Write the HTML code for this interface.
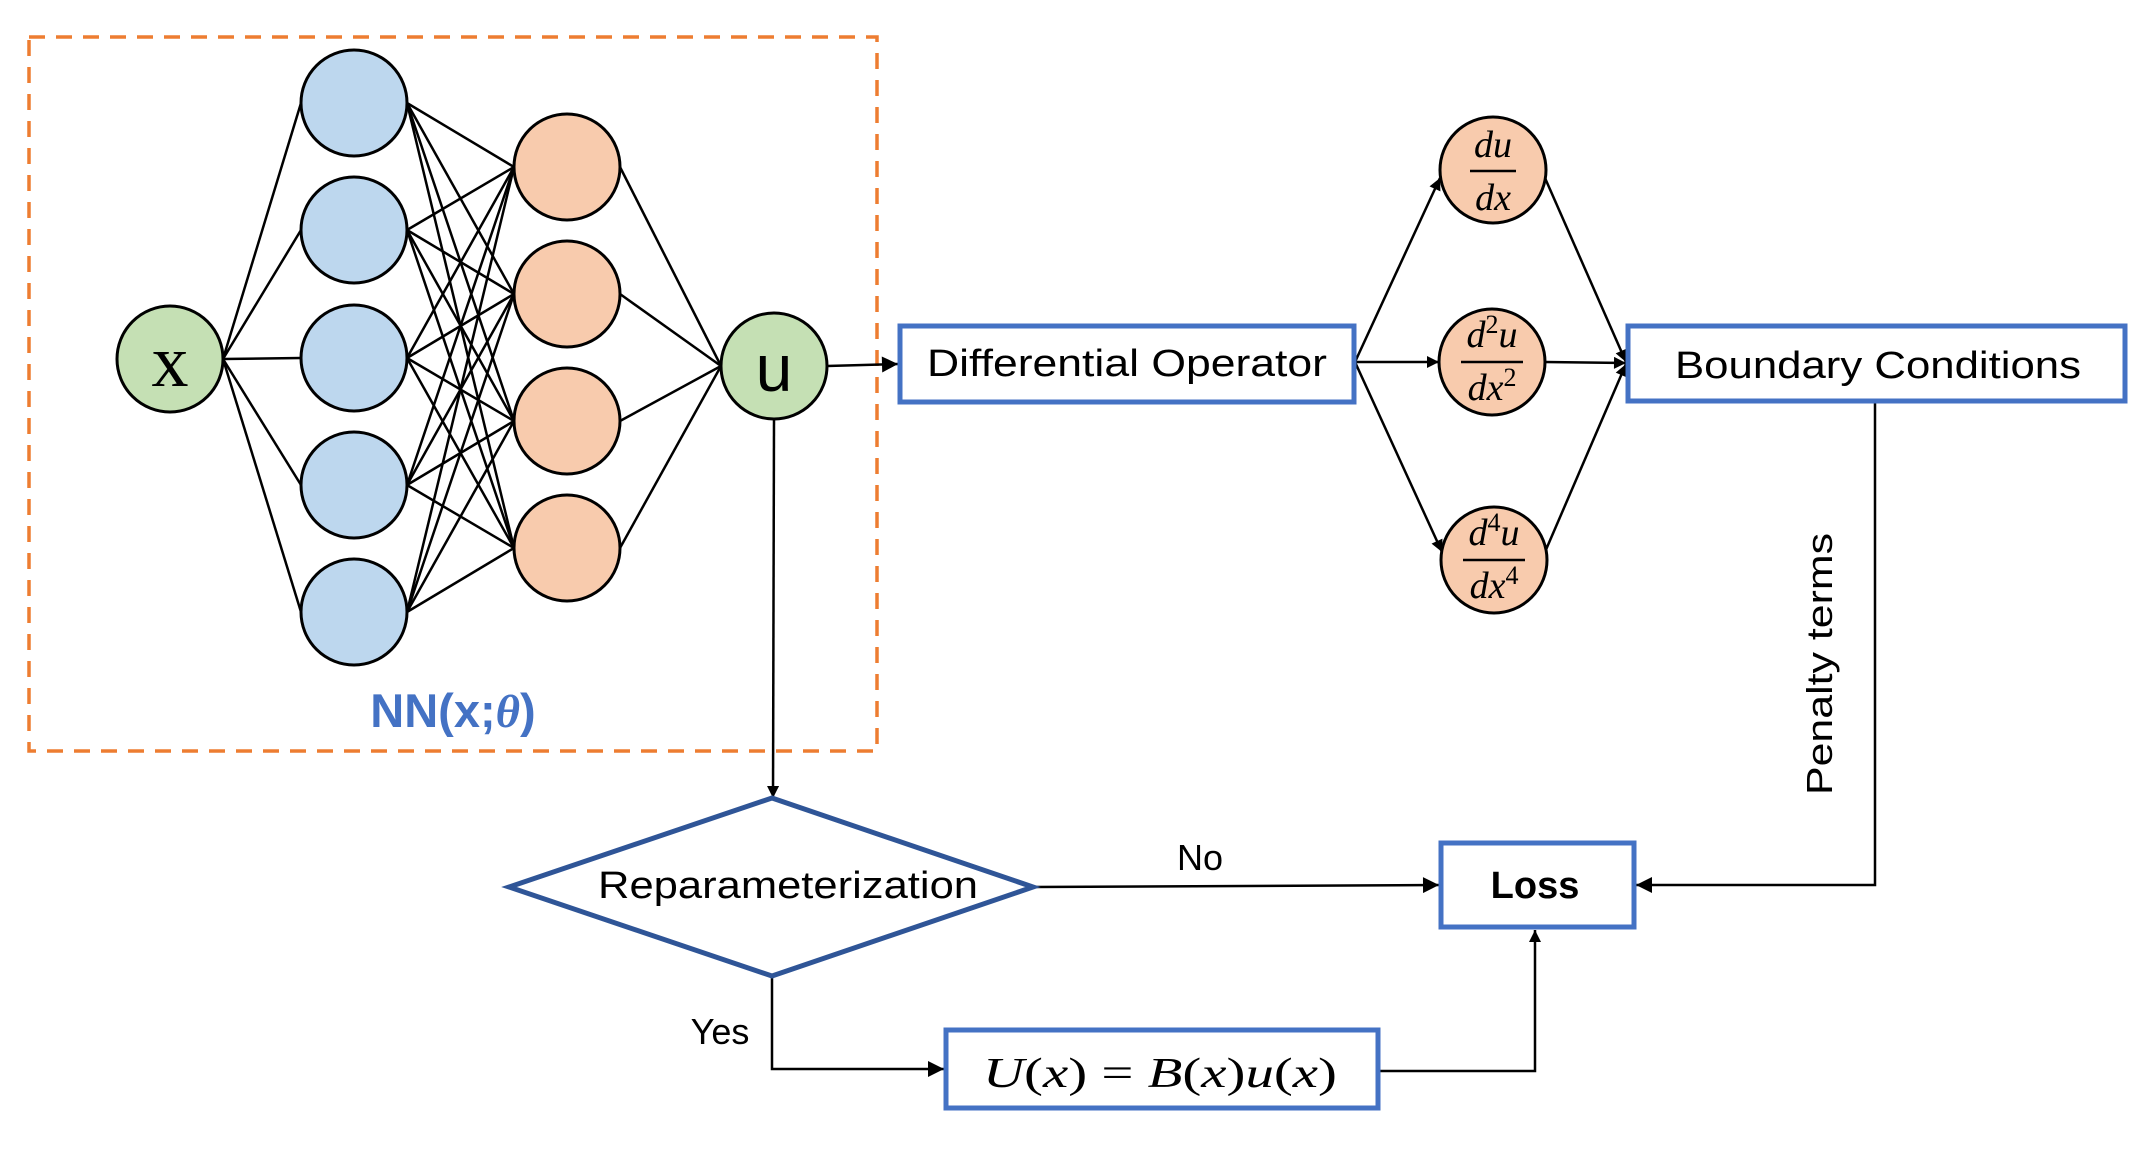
<!DOCTYPE html>
<html><head><meta charset="utf-8"><style>html,body{margin:0;padding:0;background:#fff}svg{display:block}</style></head>
<body>
<svg width="2148" height="1150" viewBox="0 0 2148 1150" xmlns="http://www.w3.org/2000/svg">
<defs>
<marker id="ah" viewBox="0 0 10 10" refX="10" refY="5" markerWidth="14" markerHeight="12" markerUnits="userSpaceOnUse" orient="auto"><path d="M0,0 L10,5 L0,10 z" fill="#000"/></marker>
<marker id="ah2" viewBox="0 0 10 10" refX="10" refY="5" markerWidth="20" markerHeight="16" markerUnits="userSpaceOnUse" orient="auto"><path d="M0,0 L10,5 L0,10 z" fill="#000"/></marker>
</defs>
<rect x="29" y="37" width="848" height="714" fill="none" stroke="#ED7D31" stroke-width="3.5" stroke-dasharray="16,11"/>
<g stroke="#000" stroke-width="2.5" fill="none">
<line x1="223" y1="359" x2="301" y2="103"/><line x1="223" y1="359" x2="301" y2="230"/><line x1="223" y1="359" x2="301" y2="358"/><line x1="223" y1="359" x2="301" y2="485"/><line x1="223" y1="359" x2="301" y2="612"/>
<line x1="407" y1="103" x2="514" y2="167"/><line x1="407" y1="103" x2="514" y2="294"/><line x1="407" y1="103" x2="514" y2="421"/><line x1="407" y1="103" x2="514" y2="548"/>
<line x1="407" y1="230" x2="514" y2="167"/><line x1="407" y1="230" x2="514" y2="294"/><line x1="407" y1="230" x2="514" y2="421"/><line x1="407" y1="230" x2="514" y2="548"/>
<line x1="407" y1="358" x2="514" y2="167"/><line x1="407" y1="358" x2="514" y2="294"/><line x1="407" y1="358" x2="514" y2="421"/><line x1="407" y1="358" x2="514" y2="548"/>
<line x1="407" y1="485" x2="514" y2="167"/><line x1="407" y1="485" x2="514" y2="294"/><line x1="407" y1="485" x2="514" y2="421"/><line x1="407" y1="485" x2="514" y2="548"/>
<line x1="407" y1="612" x2="514" y2="167"/><line x1="407" y1="612" x2="514" y2="294"/><line x1="407" y1="612" x2="514" y2="421"/><line x1="407" y1="612" x2="514" y2="548"/>
<line x1="620" y1="167" x2="721" y2="366"/><line x1="620" y1="294" x2="721" y2="366"/><line x1="620" y1="421" x2="721" y2="366"/><line x1="620" y1="548" x2="721" y2="366"/>
</g>
<g stroke="#000" stroke-width="3">
<circle cx="170" cy="359" r="53" fill="#C5E0B4"/>
<circle cx="354" cy="103" r="53" fill="#BDD7EE"/><circle cx="354" cy="230" r="53" fill="#BDD7EE"/><circle cx="354" cy="358" r="53" fill="#BDD7EE"/><circle cx="354" cy="485" r="53" fill="#BDD7EE"/><circle cx="354" cy="612" r="53" fill="#BDD7EE"/>
<circle cx="567" cy="167" r="53" fill="#F8CBAD"/><circle cx="567" cy="294" r="53" fill="#F8CBAD"/><circle cx="567" cy="421" r="53" fill="#F8CBAD"/><circle cx="567" cy="548" r="53" fill="#F8CBAD"/>
<circle cx="774" cy="366" r="53" fill="#C5E0B4"/>
</g>
<text x="170" y="386" font-family="Liberation Serif, serif" font-size="74" text-anchor="middle">x</text>
<text x="774" y="391" font-family="Liberation Sans, sans-serif" font-size="66" text-anchor="middle">u</text>
<text x="453" y="727" font-family="Liberation Sans, sans-serif" font-size="47" font-weight="bold" fill="#4472C4" text-anchor="middle">NN(x;<tspan font-style="italic" font-family="Liberation Serif, serif">θ</tspan>)</text>

<g stroke="#000" stroke-width="2.5" fill="none">
<line x1="827" y1="366" x2="898" y2="364" marker-end="url(#ah2)"/>
<line x1="774" y1="419" x2="773" y2="798" marker-end="url(#ah)"/>
<line x1="1355" y1="362" x2="1440" y2="178" marker-end="url(#ah)"/>
<line x1="1355" y1="362" x2="1439" y2="362" marker-end="url(#ah)"/>
<line x1="1355" y1="362" x2="1442" y2="552" marker-end="url(#ah)"/>
<line x1="1545" y1="178" x2="1626" y2="362" marker-end="url(#ah)"/>
<line x1="1545" y1="362" x2="1626" y2="363" marker-end="url(#ah)"/>
<line x1="1545" y1="552" x2="1626" y2="364" marker-end="url(#ah)"/>
<polyline points="1875,402 1875,885 1636,885" marker-end="url(#ah2)"/>
<line x1="1033" y1="887" x2="1439" y2="885" marker-end="url(#ah2)"/>
<polyline points="772,976 772,1069 944,1069" marker-end="url(#ah2)"/>
<polyline points="1378,1071 1535,1071 1535,930" marker-end="url(#ah)"/>
</g>

<rect x="900" y="326" width="454" height="76" fill="#fff" stroke="#4472C4" stroke-width="5"/>
<text x="1127" y="376" font-family="Liberation Sans, sans-serif" font-size="38" text-anchor="middle" textLength="400" lengthAdjust="spacingAndGlyphs">Differential Operator</text>
<rect x="1628" y="326" width="497" height="75" fill="#fff" stroke="#4472C4" stroke-width="5"/>
<text x="1878" y="378" font-family="Liberation Sans, sans-serif" font-size="38" text-anchor="middle" textLength="406" lengthAdjust="spacingAndGlyphs">Boundary Conditions</text>

<g stroke="#000" stroke-width="3" fill="#F8CBAD">
<circle cx="1493" cy="170" r="53"/><circle cx="1492" cy="362" r="53"/><circle cx="1494" cy="560" r="53"/>
</g>
<g font-family="Liberation Serif, serif" font-style="italic" font-size="38" text-anchor="middle">
<text x="1493" y="157">du</text><line x1="1470" y1="171" x2="1516" y2="171" stroke="#000" stroke-width="2.5"/><text x="1493" y="210">dx</text>
<text x="1492" y="347">d<tspan font-style="normal" font-size="26" dy="-14">2</tspan><tspan dy="14">u</tspan></text><line x1="1461" y1="362" x2="1523" y2="362" stroke="#000" stroke-width="2.5"/><text x="1492" y="400">dx<tspan font-style="normal" font-size="26" dy="-14">2</tspan></text>
<text x="1494" y="545">d<tspan font-style="normal" font-size="26" dy="-14">4</tspan><tspan dy="14">u</tspan></text><line x1="1463" y1="560" x2="1525" y2="560" stroke="#000" stroke-width="2.5"/><text x="1494" y="598">dx<tspan font-style="normal" font-size="26" dy="-14">4</tspan></text>
</g>

<text transform="translate(1832,664) rotate(-90)" font-family="Liberation Sans, sans-serif" font-size="36" text-anchor="middle" textLength="262" lengthAdjust="spacingAndGlyphs">Penalty terms</text>

<polygon points="772,798 1033,887 772,976 509,887" fill="#fff" stroke="#2F5597" stroke-width="5"/>
<text x="788" y="898" font-family="Liberation Sans, sans-serif" font-size="38" text-anchor="middle" textLength="380" lengthAdjust="spacingAndGlyphs">Reparameterization</text>
<text x="1200" y="870" font-family="Liberation Sans, sans-serif" font-size="36" text-anchor="middle">No</text>
<text x="720" y="1044" font-family="Liberation Sans, sans-serif" font-size="36" text-anchor="middle">Yes</text>

<rect x="1441" y="843" width="193" height="84" fill="#fff" stroke="#4472C4" stroke-width="5"/>
<text x="1535" y="898" font-family="Liberation Sans, sans-serif" font-size="38" font-weight="bold" text-anchor="middle">Loss</text>
<rect x="946" y="1030" width="432" height="78" fill="#fff" stroke="#4472C4" stroke-width="5"/>
<text x="1160" y="1087" font-family="Liberation Serif, serif" font-size="42" text-anchor="middle" textLength="354" lengthAdjust="spacingAndGlyphs"><tspan font-style="italic">U</tspan>(<tspan font-style="italic">x</tspan>) = <tspan font-style="italic">B</tspan>(<tspan font-style="italic">x</tspan>)<tspan font-style="italic">u</tspan>(<tspan font-style="italic">x</tspan>)</text>
</svg>
</body></html>
